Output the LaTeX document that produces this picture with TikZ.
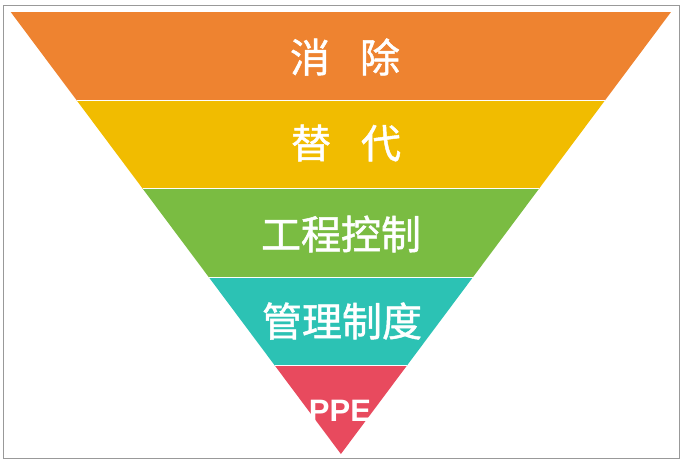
\documentclass[tikz,border=0pt]{standalone}
\usepackage{fontspec}
\setmainfont{Liberation Sans}
\newfontfamily\cjk[FakeBold=1.2]{Noto Sans CJK SC}
\usetikzlibrary{calc}

\definecolor{cElim}{RGB}{238,131,48}
\definecolor{cSubst}{RGB}{241,188,0}
\definecolor{cEng}{RGB}{122,188,66}
\definecolor{cAdmin}{RGB}{44,194,180}
\definecolor{cPpe}{RGB}{232,74,94}

\begin{document}
\begin{tikzpicture}[
  x=1pt, y=-1pt,
  frame/.style ={draw=black!40, line width=1pt},
  band/.style  ={draw=none},
  sep/.style   ={draw=white!85!black!5, line width=1.2pt},
  lbl/.style   ={text=white, inner sep=0pt, font=\cjk\fontsize{40}{42}\selectfont},
  ppe/.style   ={text=white, inner sep=0pt, font=\bfseries\fontsize{31}{33}\selectfont},
]
\useasboundingbox (0,0) rectangle (686,467);

% ---- frame ----
\draw[frame] (3,5) rectangle (679,458);

% ---- the inverted triangle ----
\coordinate (tl)   at (10.7,12);
\coordinate (tr)   at (671,12);
\coordinate (apex) at (340.9,454);

\coordinate (l1) at ($(tl)!0.2!(apex)$);
\coordinate (l2) at ($(tl)!0.4!(apex)$);
\coordinate (l3) at ($(tl)!0.6!(apex)$);
\coordinate (l4) at ($(tl)!0.8!(apex)$);
\coordinate (r1) at ($(tr)!0.2!(apex)$);
\coordinate (r2) at ($(tr)!0.4!(apex)$);
\coordinate (r3) at ($(tr)!0.6!(apex)$);
\coordinate (r4) at ($(tr)!0.8!(apex)$);

\fill[band, cElim]   (tl) -- (tr) -- (r1) -- (l1) -- cycle;
\fill[band, cSubst]  (l1) -- (r1) -- (r2) -- (l2) -- cycle;
\fill[band, cEng]    (l2) -- (r2) -- (r3) -- (l3) -- cycle;
\fill[band, cAdmin]  (l3) -- (r3) -- (r4) -- (l4) -- cycle;
\fill[band, cPpe]    (l4) -- (r4) -- (apex) -- cycle;

\draw[sep] (l1) -- (r1);
\draw[sep] (l2) -- (r2);
\draw[sep] (l3) -- (r3);
\draw[sep] (l4) -- (r4);

% ---- labels ----
\node[lbl] (elim)  at (345,57)  {消\hspace{0.75em}除};
\node[lbl] (subst) at (346,143) {替\hspace{0.75em}代};
\node[lbl] (eng)   at (341,234) {工程控制};
\node[lbl] (admin) at (342,321) {管理制度};
\node[ppe] (ppe)   at (340,411) {PPE};

\end{tikzpicture}
\end{document}
